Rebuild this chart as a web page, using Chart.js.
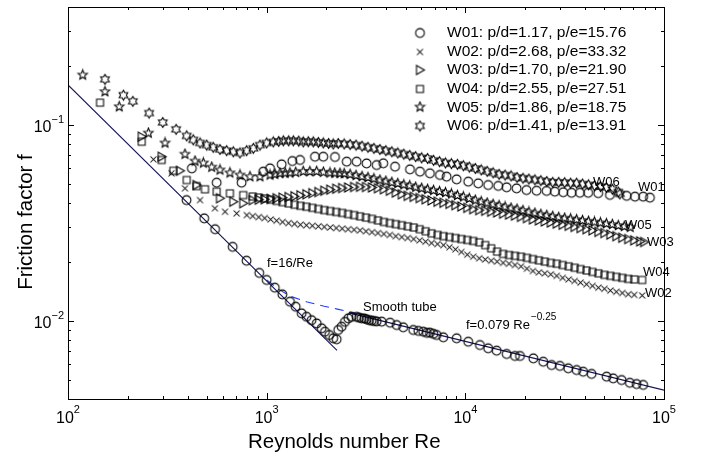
<!DOCTYPE html>
<html>
<head>
<meta charset="utf-8">
<script src="https://cdn.jsdelivr.net/npm/chart.js@4"></script>
<style>
html, body { margin: 0; padding: 0; background: #fff; }
</style>
</head>
<body>
<canvas id="FrictionChart" width="701" height="462"></canvas>
<script>
// [Re, f] pairs
const smoothTube = [[395,0.0414],[485,0.0334],[550,0.0294],[674,0.0239],[792,0.0203],[918,0.0176],[1000,0.0162],[1099,0.0148],[1199,0.01368],[1310,0.01254],[1399,0.01183],[1500,0.01094],[1589,0.01051],[1683,0.0101],[1786,0.00972],[1892,0.00918],[1966,0.00882],[2065,0.00849],[2163,0.00816],[2250,0.00807],[2291,0.0090],[2383,0.00935],[2477,0.0099],[2575,0.01032],[2677,0.0105],[2838,0.0105],[2920,0.0104],[3006,0.01032],[3100,0.0103],[3184,0.0102],[3280,0.0101],[3373,0.01004],[3470,0.0100],[3578,0.00995],[3793,0.00992],[4180,0.0098],[4511,0.00954],[4868,0.00929],[5465,0.0090],[5800,0.0089],[6138,0.00882],[6400,0.0087],[6633,0.00872],[6900,0.0086],[7171,0.00849],[7745,0.00826],[9042,0.00816],[10340,0.00784],[11840,0.00754],[13030,0.00726],[14380,0.00706],[16140,0.00679],[17780,0.00663],[18840,0.00663],[21990,0.00645],[24670,0.0062],[27170,0.00596],[29920,0.0059],[32960,0.00574],[36310,0.00562],[39190,0.00551],[43220,0.00537],[51420,0.0052],[55480,0.0051],[61190,0.0050],[67330,0.00484],[72790,0.00477],[78540,0.00472]];

const w01 = [[420,0.0601],[560,0.0508],[748,0.0508],[961,0.0578],[1040,0.0601],[1190,0.063],[1347,0.0655],[1472,0.0663],[1750,0.0689],[1928,0.0689],[2207,0.0687],[2529,0.065],[2838,0.065],[3184,0.0637],[3578,0.0625],[3864,0.0638],[4426,0.0613],[5263,0.0594],[5910,0.0578],[6633,0.0567],[7447,0.0556],[8050,0.0545],[9042,0.0528],[10340,0.0514],[11610,0.0504],[13030,0.0494],[14640,0.0489],[16140,0.0481],[18110,0.0475],[20330,0.0466],[22840,0.0462],[25640,0.0461],[28230,0.0457],[31100,0.0454],[34270,0.0451],[37740,0.0451],[41520,0.0451],[46650,0.0449],[53440,0.044],[64860,0.0435],[71430,0.0431],[78540,0.0431],[84910,0.0426]];

const w02 = [[269,0.0668],[332,0.0567],[388,0.0475],[462,0.0414],[549,0.0376],[617,0.0361],[706,0.0354],[794,0.0347],[851,0.0343],[912,0.0339],[977,0.0335],[1047,0.033],[1122,0.0325],[1202,0.032],[1288,0.0316],[1380,0.0313],[1479,0.031],[1585,0.0308],[1698,0.0306],[1820,0.0304],[1950,0.0302],[2089,0.030],[2239,0.0298],[2399,0.0296],[2570,0.0294],[2754,0.0292],[2951,0.029],[3162,0.0287],[3388,0.0284],[3631,0.0281],[3890,0.0278],[4169,0.0275],[4467,0.0271],[4786,0.0268],[5129,0.0265],[5495,0.0262],[5888,0.0258],[6310,0.0254],[6761,0.025],[7244,0.0247],[7762,0.0244],[8318,0.0238],[8913,0.0232],[9550,0.0225],[10230,0.0218],[10960,0.0213],[11750,0.0209],[12590,0.0206],[13490,0.0203],[14450,0.0201],[15490,0.0198],[16600,0.0196],[17780,0.0193],[19050,0.019],[20420,0.0185],[21880,0.018],[23440,0.0177],[25120,0.0175],[26920,0.0173],[28840,0.017],[30900,0.0166],[33110,0.0163],[35480,0.016],[38020,0.0157],[40740,0.0154],[43650,0.0151],[46770,0.0148],[50120,0.0146],[53700,0.0143],[57540,0.0141],[61660,0.0139],[66070,0.0137],[70790,0.0136],[77620,0.0135]];

const w03 = [[235,0.0872],[296,0.0689],[366,0.0584],[444,0.0494],[582,0.0423],[679,0.0406],[762,0.0399],[851,0.0414],[912,0.0416],[977,0.0418],[1047,0.042],[1122,0.0423],[1202,0.0426],[1288,0.0429],[1380,0.0433],[1479,0.0438],[1585,0.0443],[1698,0.0449],[1820,0.0455],[1950,0.0462],[2089,0.0468],[2239,0.0473],[2399,0.0477],[2570,0.048],[2754,0.0483],[2951,0.0484],[3162,0.0483],[3388,0.048],[3631,0.0476],[3890,0.047],[4169,0.0462],[4467,0.0452],[4786,0.0443],[5129,0.0435],[5495,0.043],[5888,0.0424],[6310,0.0418],[6761,0.0412],[7244,0.0406],[7762,0.0401],[8318,0.0396],[8913,0.039],[9550,0.0384],[10230,0.0378],[10960,0.0372],[11750,0.0368],[12590,0.0365],[13490,0.0361],[14450,0.0358],[15490,0.0353],[16600,0.0349],[17780,0.0345],[19050,0.034],[20420,0.0335],[21880,0.033],[23440,0.0326],[25120,0.0322],[26920,0.0318],[28840,0.0314],[30900,0.031],[33110,0.0306],[35480,0.0302],[38020,0.0298],[40740,0.0294],[43650,0.029],[46770,0.0285],[50120,0.0281],[53700,0.0276],[57540,0.0271],[61660,0.0266],[66070,0.0262],[70790,0.0258],[75860,0.0255],[79430,0.0253]];

const w04 = [[145,0.130],[235,0.0822],[296,0.0663],[339,0.0584],[396,0.0524],[444,0.0488],[489,0.047],[560,0.0457],[653,0.0448],[762,0.0439],[851,0.0432],[912,0.0427],[977,0.0422],[1047,0.0416],[1122,0.041],[1202,0.0404],[1288,0.0398],[1380,0.0392],[1479,0.0387],[1585,0.0383],[1698,0.0378],[1820,0.0373],[1950,0.0368],[2089,0.0364],[2239,0.036],[2399,0.0356],[2570,0.0351],[2754,0.0347],[2951,0.0342],[3162,0.0337],[3388,0.0332],[3631,0.0326],[3890,0.032],[4169,0.0316],[4467,0.0312],[4786,0.0308],[5129,0.0304],[5495,0.030],[5888,0.0294],[6310,0.0287],[6761,0.028],[7244,0.0275],[7762,0.0271],[8318,0.0268],[8913,0.0265],[9550,0.0262],[10230,0.0259],[10960,0.0256],[11750,0.0252],[12590,0.0244],[13490,0.0235],[14450,0.0226],[15490,0.022],[16600,0.0217],[17780,0.0215],[19050,0.0213],[20420,0.021],[21880,0.0207],[23440,0.0204],[25120,0.0201],[26920,0.0198],[28840,0.0196],[30900,0.0193],[33110,0.019],[35480,0.0187],[38020,0.0184],[40740,0.0181],[43650,0.0178],[46770,0.0175],[50120,0.0172],[53700,0.017],[57540,0.0168],[61660,0.0166],[66070,0.0164],[70790,0.0163],[77620,0.0162]];

const w05 = [[118.6,0.180],[153.5,0.148],[181,0.124],[254,0.091],[308,0.081],[388,0.071],[436,0.0655],[480,0.064],[529,0.061],[582,0.059],[653,0.057],[734,0.0556],[824,0.0545],[925,0.0545],[1040,0.0556],[1100,0.0561],[1167,0.0567],[1240,0.0569],[1309,0.057],[1400,0.0574],[1528,0.058],[1650,0.0579],[1785,0.058],[1930,0.0575],[2082,0.057],[2200,0.0569],[2338,0.0567],[2455,0.0565],[2630,0.056],[2818,0.0553],[3020,0.0546],[3236,0.054],[3467,0.0532],[3715,0.0524],[3981,0.0517],[4266,0.051],[4571,0.0503],[4898,0.0496],[5248,0.049],[5623,0.0482],[6026,0.0476],[6457,0.047],[6918,0.0464],[7413,0.0458],[7943,0.0452],[8511,0.0445],[9120,0.0437],[9772,0.043],[10470,0.0422],[11220,0.0414],[12020,0.0406],[12880,0.040],[13800,0.0394],[14790,0.0388],[15850,0.0382],[16980,0.0377],[18200,0.0372],[19500,0.0366],[20890,0.036],[22390,0.0355],[23990,0.035],[25700,0.0346],[27540,0.0342],[29510,0.0338],[31620,0.0335],[33880,0.0332],[36310,0.0329],[38900,0.0326],[41690,0.0323],[44670,0.032],[47860,0.0317],[51290,0.0314],[54950,0.0311],[58880,0.0307],[63100,0.0304],[67610,0.0301]];

const w06 = [[153.5,0.171],[190,0.142],[212,0.132],[256,0.115],[300,0.103],[350,0.095],[396,0.088],[427,0.084],[462,0.081],[499,0.079],[538,0.077],[582,0.075],[629,0.074],[679,0.073],[734,0.072],[793,0.074],[857,0.076],[925,0.079],[1000,0.081],[1080,0.082],[1150,0.0825],[1213,0.083],[1290,0.083],[1362,0.083],[1450,0.0828],[1529,0.082],[1620,0.0822],[1717,0.082],[1820,0.0815],[1928,0.081],[2050,0.0805],[2163,0.080],[2291,0.0805],[2455,0.080],[2630,0.0795],[2818,0.079],[3020,0.078],[3236,0.077],[3467,0.076],[3715,0.075],[3981,0.074],[4266,0.073],[4571,0.072],[4898,0.071],[5248,0.070],[5623,0.069],[6026,0.068],[6457,0.0675],[6918,0.066],[7413,0.065],[7943,0.064],[8511,0.0635],[9120,0.063],[9772,0.062],[10470,0.061],[11220,0.060],[12020,0.059],[12880,0.058],[13800,0.057],[14790,0.056],[15850,0.0555],[16980,0.055],[18200,0.054],[19500,0.0535],[20890,0.053],[22390,0.0525],[23990,0.052],[25700,0.0515],[27540,0.051],[29510,0.051],[31620,0.0508],[33880,0.0505],[36310,0.0505],[38900,0.050],[41690,0.0495],[44670,0.049],[47860,0.0485],[51290,0.048],[54950,0.047],[58880,0.0455],[60000,0.0445]];

const laminarLine = [[100,0.16],[2260,0.00708]];
const turbulentLine = [[2600,0.0110],[100000,0.00444]];
const transitionLine = [[1000,0.0162],[1150,0.0145],[1310,0.0134],[1600,0.0125],[1950,0.0119],[2270,0.0115],[2850,0.0109]];

const legendLabels = [
    'W01: p/d=1.17, p/e=15.76',
    'W02: p/d=2.68, p/e=33.32',
    'W03: p/d=1.70, p/e=21.90',
    'W04: p/d=2.55, p/e=27.51',
    'W05: p/d=1.86, p/e=18.75',
    'W06: p/d=1.41, p/e=13.91'
];
const xMajor = [100, 1000, 10000, 100000];
const xExp = ['2', '3', '4', '5'];
const yMajor = [0.01, 0.1];
const yExp = ['\u22122', '\u22121'];

const FONT = '"Liberation Sans", Arial, Helvetica, sans-serif';

function marker(kind) {
    const c = document.createElement('canvas');
    c.width = 13;
    c.height = 13;
    const g = c.getContext('2d');
    g.translate(6.5, 6.5);
    g.strokeStyle = '#000';
    g.lineWidth = 1.05;
    g.beginPath();
    if (kind === 'circle') {
        g.arc(0, 0, 4.4, 0, 2 * Math.PI);
    } else if (kind === 'cross') {
        g.moveTo(-3, -3); g.lineTo(3, 3);
        g.moveTo(3, -3); g.lineTo(-3, 3);
    } else if (kind === 'tri') {
        g.moveTo(-3.5, -4.5); g.lineTo(4.5, 0); g.lineTo(-3.5, 4.5); g.closePath();
    } else if (kind === 'square') {
        g.rect(-3.5, -3.5, 7, 7);
    } else if (kind === 'star5' || kind === 'star6') {
        const n = kind === 'star5' ? 5 : 6;
        const inner = kind === 'star5' ? 2.2 : 2.9;
        for (let i = 0; i < 2 * n; i++) {
            const r = i % 2 ? inner : 5;
            const a = -Math.PI / 2 + i * Math.PI / n;
            if (i === 0) g.moveTo(r * Math.cos(a), r * Math.sin(a));
            else g.lineTo(r * Math.cos(a), r * Math.sin(a));
        }
        g.closePath();
    }
    g.stroke();
    return c;
}

const markers = {
    circle: marker('circle'),
    cross: marker('cross'),
    tri: marker('tri'),
    square: marker('square'),
    star5: marker('star5'),
    star6: marker('star6')
};
const legendMarkers = [markers.circle, markers.cross, markers.tri, markers.square, markers.star5, markers.star6];

const toXY = (arr) => arr.map(p => ({ x: p[0], y: p[1] }));

function pointSet(label, arr, style) {
    return {
        label: label,
        data: toXY(arr),
        pointStyle: style,
        pointRadius: 5,
        showLine: false,
        borderColor: '#000',
        backgroundColor: 'rgba(0,0,0,0)'
    };
}

function lineSet(label, arr, color, dash) {
    return {
        label: label,
        data: toXY(arr),
        showLine: true,
        pointRadius: 0,
        borderColor: color,
        borderWidth: 1.1,
        borderDash: dash,
        fill: false
    };
}

const framePlugin = {
    id: 'frame',
    afterDraw(chart) {
        const { ctx, chartArea: a, scales: { x, y } } = chart;
        ctx.save();
        ctx.strokeStyle = '#000';
        ctx.lineWidth = 1;
        ctx.strokeRect(a.left + 0.5, a.top + 0.5, a.right - a.left, a.bottom - a.top);

        ctx.beginPath();
        xMajor.forEach((d, i) => {
            for (let m = 1; m <= 9; m++) {
                const v = d * m;
                if (v > 100000 || (i === xMajor.length - 1 && m > 1)) continue;
                const px = Math.round(x.getPixelForValue(v)) + 0.5;
                const len = m === 1 ? 6 : 3;
                ctx.moveTo(px, a.bottom); ctx.lineTo(px, a.bottom - len);
                ctx.moveTo(px, a.top); ctx.lineTo(px, a.top + len);
            }
        });
        [0.001, 0.01, 0.1].forEach(d => {
            for (let m = 1; m <= 9; m++) {
                const v = d * m;
                if (v < 0.004 - 1e-9 || v > 0.4 + 1e-9) continue;
                const py = Math.round(y.getPixelForValue(v)) + 0.5;
                const len = m === 1 ? 6 : 3;
                ctx.moveTo(a.left, py); ctx.lineTo(a.left + len, py);
                ctx.moveTo(a.right, py); ctx.lineTo(a.right - len, py);
            }
        });
        ctx.stroke();

        // tick labels 10^n
        ctx.fillStyle = '#000';
        ctx.textBaseline = 'alphabetic';
        xMajor.forEach((v, i) => {
            const px = x.getPixelForValue(v);
            ctx.font = '16px ' + FONT;
            const w1 = ctx.measureText('10').width;
            ctx.font = '11px ' + FONT;
            const w2 = ctx.measureText(xExp[i]).width;
            const left = px - (w1 + w2) / 2;
            ctx.font = '16px ' + FONT;
            ctx.fillText('10', left, a.bottom + 24);
            ctx.font = '11px ' + FONT;
            ctx.fillText(xExp[i], left + w1, a.bottom + 14);
        });
        yMajor.forEach((v, i) => {
            const py = y.getPixelForValue(v);
            ctx.font = '11px ' + FONT;
            const w2 = ctx.measureText(yExp[i]).width;
            ctx.font = '16px ' + FONT;
            const w1 = ctx.measureText('10').width;
            const left = a.left - 4 - w1 - w2;
            ctx.fillText('10', left, py + 7);
            ctx.font = '11px ' + FONT;
            ctx.fillText(yExp[i], left + w1, py - 2);
        });

        // axis titles
        ctx.font = '20.5px ' + FONT;
        ctx.textAlign = 'left';
        ctx.fillText('Reynolds number Re', 248, 448);
        ctx.save();
        ctx.translate(32, 222);
        ctx.rotate(-Math.PI / 2);
        ctx.textAlign = 'center';
        ctx.fillText('Friction factor f', 0, 0);
        ctx.restore();

        // legend
        ctx.font = '15.5px ' + FONT;
        ctx.textBaseline = 'middle';
        legendLabels.forEach((t, i) => {
            const yy = 33 + i * 18.6;
            ctx.drawImage(legendMarkers[i], 420 - 6.5, Math.round(yy) - 6.5);
            ctx.fillText(t, 447, yy);
        });

        // annotations
        ctx.font = '13px ' + FONT;
        ctx.fillText('W06', 593, 182);
        ctx.fillText('W01', 638, 187);
        ctx.fillText('W05', 625, 225);
        ctx.fillText('W03', 647, 242);
        ctx.fillText('W04', 643, 272);
        ctx.fillText('W02', 645, 293);
        ctx.fillText('f=16/Re', 267, 263);
        ctx.fillText('Smooth tube', 363, 307);
        ctx.fillText('f=0.079 Re', 466, 325);
        const wf = ctx.measureText('f=0.079 Re').width;
        ctx.font = '10px ' + FONT;
        ctx.fillText('\u22120.25', 466 + wf + 1, 317);
        ctx.restore();
    }
};

const ctx = document.getElementById('FrictionChart');
new Chart(ctx, {
    type: 'scatter',
    data: {
        datasets: [
            pointSet('Smooth tube', smoothTube, markers.circle),
            pointSet('W01', w01, markers.circle),
            pointSet('W02', w02, markers.cross),
            pointSet('W03', w03, markers.tri),
            pointSet('W04', w04, markers.square),
            pointSet('W05', w05, markers.star5),
            pointSet('W06', w06, markers.star6),
            lineSet('f=16/Re', laminarLine, '#14145a', []),
            lineSet('f=0.079Re^-0.25', turbulentLine, '#14145a', []),
            lineSet('transition', transitionLine, '#1f3cff', [9, 6])
        ]
    },
    options: {
        responsive: false,
        animation: false,
        layout: { padding: { left: 68, right: 37, top: 7, bottom: 63 } },
        plugins: {
            legend: { display: false },
            tooltip: { enabled: false }
        },
        scales: {
            x: { type: 'logarithmic', min: 100, max: 100000, display: false },
            y: { type: 'logarithmic', min: 0.004, max: 0.4, display: false }
        }
    },
    plugins: [framePlugin]
});
</script>
</body>
</html>
